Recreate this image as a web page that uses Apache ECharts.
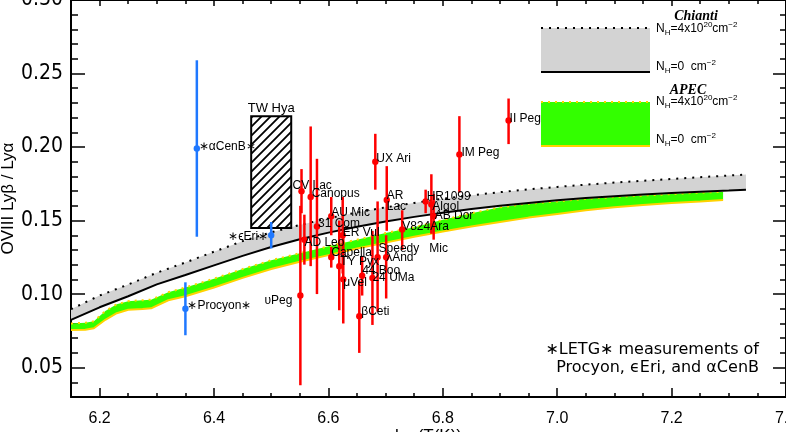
<!DOCTYPE html>
<html>
<head>
<meta charset="utf-8">
<script src="https://cdn.jsdelivr.net/npm/echarts@6/dist/echarts.min.js"></script>
<style>
  html, body { margin: 0; padding: 0; background: #fff; }
  #chart { width: 786px; height: 432px; }
</style>
</head>
<body>
<div id="chart"></div>
<script>
// model curves: Chianti (grey band) and APEC (green band), log T vs ratio
var chiantiT = [6.15, 6.20, 6.25, 6.30, 6.35, 6.40, 6.45, 6.50, 6.55, 6.60, 6.65, 6.70, 6.75,
  6.80, 6.85, 6.90, 6.95, 7.00, 7.05, 7.10, 7.15, 7.20, 7.25, 7.30, 7.33];
var chiantiNH0 = [0.0824, 0.0910, 0.0985, 0.1066, 0.1130, 0.1195, 0.1260, 0.1320, 0.1373, 0.1418,
  0.1458, 0.1493, 0.1525, 0.1553, 0.1578, 0.1600, 0.1620, 0.1638, 0.1653, 0.1666, 0.1677, 0.1687,
  0.1696, 0.1704, 0.1709];
var chiantiNH4 = [0.0897, 0.0990, 0.1065, 0.1145, 0.1215, 0.1288, 0.1360, 0.1420, 0.1470, 0.1515,
  0.1555, 0.1590, 0.1620, 0.1648, 0.1672, 0.1693, 0.1712, 0.1729, 0.1744, 0.1758, 0.1771, 0.1783,
  0.1795, 0.1806, 0.1813];

var apecT = [6.15, 6.175, 6.19, 6.21, 6.23, 6.25, 6.275, 6.29, 6.32, 6.35, 6.40, 6.45, 6.50, 6.55,
  6.60, 6.65, 6.70, 6.75, 6.80, 6.85, 6.90, 6.95, 7.00, 7.05, 7.10, 7.15, 7.20, 7.25, 7.29];
var apecNH0 = [0.0756, 0.0758, 0.0768, 0.0825, 0.0870, 0.0893, 0.0898, 0.0903, 0.0958, 0.0985,
  0.1045, 0.1110, 0.1170, 0.1220, 0.1265, 0.1310, 0.1350, 0.1390, 0.1425, 0.1460, 0.1490, 0.1520,
  0.1545, 0.1570, 0.1590, 0.1605, 0.1620, 0.1630, 0.1640];
var apecNH4 = [0.0800, 0.0805, 0.0815, 0.0885, 0.0930, 0.0952, 0.0958, 0.0962, 0.1012, 0.1045,
  0.1105, 0.1170, 0.1230, 0.1278, 0.1325, 0.1370, 0.1415, 0.1455, 0.1505, 0.1550, 0.1590, 0.1615,
  0.1630, 0.1648, 0.1660, 0.1670, 0.1680, 0.1690, 0.1695];

// HETG stars (red)
var starNames = ['CV Lac', '\u03c5Peg', 'AD Leo', 'Canopus', '31 Com', 'AU Mic', 'Capella', 'ER Vul',
  'TY Pyx', '\u03bcVel', '44 Boo', '\u03b2Ceti', '24 UMa', 'Speedy   Mic', '\u03bbAnd', 'AR\nLac', 'UX Ari',
  'V824Ara', 'HR1099', 'Algol', 'AB Dor', 'IM Peg', 'II Peg'];
var starT = [6.553, 6.551, 6.558, 6.569, 6.580, 6.605, 6.605, 6.625, 6.619, 6.626, 6.659, 6.654,
  6.677, 6.686, 6.701, 6.702, 6.682, 6.729, 6.770, 6.780, 6.784, 6.829, 6.915];
var starRatio = [0.170, 0.099, 0.137, 0.166, 0.146, 0.153, 0.125, 0.140, 0.119, 0.110, 0.1125, 0.085,
  0.111, 0.125, 0.125, 0.164, 0.190, 0.144, 0.163, 0.161, 0.153, 0.195, 0.218];
var starLow = [0.155, 0.038, 0.120, 0.119, 0.100, 0.140, 0.118, 0.114, 0.089, 0.080, 0.099, 0.060,
  0.079, 0.088, 0.097, 0.143, 0.171, 0.130, 0.155, 0.141, 0.137, 0.169, 0.202];
var starHigh = [0.185, 0.160, 0.154, 0.214, 0.192, 0.166, 0.132, 0.166, 0.150, 0.140, 0.126, 0.109,
  0.143, 0.163, 0.140, 0.187, 0.209, 0.157, 0.171, 0.1815, 0.168, 0.221, 0.233];
// label offsets (dx, dy, align) - layout only
var starLabelPos = [[-9, -5], [-8, 5, 'right'], [0, 3], [1, -3], [1, -3], [0, -3], [0, -5], [0, -3],
  [1, -4], [0, 3], [0, -5], [2, -4], [0, 0], [1, -9], [0, 0], [0, 1], [1, -3], [0, -3], [1, -5],
  [1, 2], [1, 0], [2, -2], [1, -2]];

// LETG stars (blue)
var letgNames = ['\u2217Procyon\u2217', '\u2217\u03f5Eri\u2217', '\u2217\u03b1CenB\u2217'];
var letgT = [6.35, 6.50, 6.37];
var letgRatio = [0.090, 0.140, 0.199];
var letgLow = [0.072, 0.131, 0.139];
var letgHigh = [0.108, 0.149, 0.259];
var letgLabelPos = [[2, -3], [-3, 1, 'right'], [2, -2]];

// TW Hya box [Tmin, Tmax, ratio min, ratio max]
var twHya = [6.465, 6.535, 0.145, 0.221];

// ticks
var xMajor = [6.2, 6.4, 6.6, 6.8, 7.0, 7.2, 7.4];
var yMajor = [0.05, 0.10, 0.15, 0.20, 0.25, 0.30];
var xMinor = [], yMinor = [];
for (var k = 0; k <= 25; k++) xMinor.push(+(6.15 + k * 0.05).toFixed(2));
for (var m = 0; m <= 27; m++) yMinor.push(+(0.03 + m * 0.01).toFixed(2));

var FONT = 'Liberation Sans';
var chart = echarts.init(document.getElementById('chart'));

// hatch pattern for TW Hya
var hatch = document.createElement('canvas');
hatch.width = 9; hatch.height = 9;
var hc = hatch.getContext('2d');
hc.fillStyle = '#fff'; hc.fillRect(0, 0, 9, 9);
hc.strokeStyle = '#000'; hc.lineWidth = 1.8;
hc.beginPath();
hc.moveTo(-1, 10); hc.lineTo(10, -1);
hc.moveTo(-1, 1); hc.lineTo(1, -1);
hc.moveTo(8, 10); hc.lineTo(10, 8);
hc.stroke();

function bandSeries(T, lo, hi, color, z) {
  return {
    type: 'custom', silent: true, z: z, data: [[T[0], lo[0]]],
    renderItem: function (params, api) {
      var pts = [];
      for (var i = 0; i < T.length; i++) pts.push(api.coord([T[i], hi[i]]));
      for (var j = T.length - 1; j >= 0; j--) pts.push(api.coord([T[j], lo[j]]));
      return { type: 'polygon', shape: { points: pts }, style: { fill: color } };
    }
  };
}

function curve(T, vals, color, width, type, z) {
  return {
    type: 'line', silent: true, z: z, symbol: 'none', smooth: false,
    data: T.map(function (t, i) { return [t, vals[i]]; }),
    lineStyle: { color: color, width: width, type: type }
  };
}

function errSeries(T, val, lo, hi, color) {
  return {
    type: 'custom', z: 5,
    data: T.map(function (t, i) { return [t, val[i], lo[i], hi[i]]; }),
    encode: { x: 0, y: [1, 2, 3] },
    renderItem: function (params, api) {
      var p = api.coord([api.value(0), api.value(1)]);
      var a = api.coord([api.value(0), api.value(2)]);
      var b = api.coord([api.value(0), api.value(3)]);
      return {
        type: 'group', children: [
          { type: 'line', shape: { x1: a[0], y1: a[1], x2: b[0], y2: b[1] }, style: { stroke: color, lineWidth: 2.5 } },
          { type: 'circle', shape: { cx: p[0], cy: p[1], r: 3.2 }, style: { fill: color } }
        ]
      };
    }
  };
}

function labelSeries(T, val, names, pos) {
  return {
    type: 'custom', z: 8, silent: true,
    data: T.map(function (t, i) { return [t, val[i]]; }),
    renderItem: function (params, api) {
      var p = api.coord([api.value(0), api.value(1)]);
      var o = pos[params.dataIndex];
      return {
        type: 'text', x: p[0] + o[0], y: p[1] + o[1],
        style: {
          text: names[params.dataIndex], fill: '#000', font: '12px "' + FONT + '"',
          align: o[2] || 'left', verticalAlign: 'middle', lineHeight: 11
        }
      };
    }
  };
}

function xAx(pos, vals, len, main) {
  return {
    type: 'value', min: 6.15, max: 7.4, position: pos,
    axisLine: { show: main, onZero: false, lineStyle: { color: '#000', width: 2 } },
    axisTick: { inside: true, length: len, customValues: vals, lineStyle: { color: '#000', width: 1.5 } },
    axisLabel: main && pos === 'bottom' ? {
      customValues: xMajor, color: '#000', fontSize: 16, fontFamily: FONT, margin: 14,
      formatter: function (v) { return v.toFixed(1); }
    } : { show: false },
    splitLine: { show: false },
    name: main && pos === 'bottom' ? 'log(T(K))' : '',
    nameLocation: 'middle', nameGap: 31, nameMoveOverlap: false,
    nameTextStyle: { color: '#000', fontSize: 17, fontFamily: FONT }
  };
}
function yAx(pos, vals, len, main) {
  return {
    type: 'value', min: 0.03, max: 0.30, position: pos,
    axisLine: { show: main, onZero: false, lineStyle: { color: '#000', width: 2 } },
    axisTick: { inside: true, length: len, customValues: vals, lineStyle: { color: '#000', width: 1.5 } },
    axisLabel: main && pos === 'left' ? {
      customValues: yMajor, color: '#000', fontSize: 21, margin: 8,
      fontFamily: 'Liberation Sans Narrow, DejaVu Sans Condensed, sans-serif',
      formatter: function (v) { return v.toFixed(2); }
    } : { show: false },
    splitLine: { show: false },
    name: main && pos === 'left' ? 'OVIII Ly\u03b2 / Ly\u03b1' : '',
    nameLocation: 'middle', nameGap: 54, nameMoveOverlap: false,
    nameTextStyle: { color: '#000', fontSize: 17, fontFamily: FONT }
  };
}

function nhText(x, y, four) {
  var t = four ? '{n|N}{s|H}{n|=4x10}{p|20}{n|cm}{p|\u22122}' : '{n|N}{s|H}{n|=0  cm}{p|\u22122}';
  return {
    type: 'text', x: x, y: y,
    style: {
      text: t, verticalAlign: 'middle', fill: '#000',
      rich: {
        n: { fontSize: 12, fontFamily: FONT, lineHeight: 16 },
        s: { fontSize: 8, fontFamily: FONT, lineHeight: 16, verticalAlign: 'bottom' },
        p: { fontSize: 8, fontFamily: FONT, lineHeight: 16, verticalAlign: 'top' }
      }
    }
  };
}

var option = {
  backgroundColor: '#fff',
  animation: false,
  grid: { left: 71, right: 0, top: 0, bottom: 35, containLabel: false, outerBoundsMode: 'none' },
  xAxis: [xAx('bottom', xMajor, 9, true), xAx('bottom', xMinor, 4, false),
    xAx('top', xMajor, 6, true), xAx('top', xMinor, 4, false)],
  yAxis: [yAx('left', yMajor, 14, true), yAx('left', yMinor, 7, false),
    yAx('right', yMajor, 13, true), yAx('right', yMinor, 6, false)],
  series: [
    bandSeries(apecT, apecNH0, apecNH4, '#33ff00', 1),
    curve(apecT, apecNH0, '#ffd200', 2, 'solid', 2),
    curve(apecT, apecNH4, '#ffd200', 2, [2, 5], 2),
    bandSeries(chiantiT, chiantiNH0, chiantiNH4, '#d3d3d3', 3),
    curve(chiantiT, chiantiNH0, '#000', 2, 'solid', 4),
    curve(chiantiT, chiantiNH4, '#000', 2, [2, 6], 4),
    {
      type: 'custom', z: 4, silent: true, data: [twHya],
      renderItem: function (params, api) {
        var a = api.coord([api.value(0), api.value(3)]);
        var b = api.coord([api.value(1), api.value(2)]);
        return {
          type: 'group', children: [
            { type: 'rect', shape: { x: a[0], y: a[1], width: b[0] - a[0], height: b[1] - a[1] },
              style: { fill: { image: hatch, repeat: 'repeat' }, stroke: '#000', lineWidth: 2 } },
            { type: 'text', x: (a[0] + b[0]) / 2, y: a[1] - 8,
              style: { text: 'TW Hya', font: '13px "' + FONT + '"', fill: '#000', align: 'center', verticalAlign: 'middle' } }
          ]
        };
      }
    },
    errSeries(starT, starRatio, starLow, starHigh, '#ff0000'),
    errSeries(letgT, letgRatio, letgLow, letgHigh, '#1f78ff'),
    labelSeries(starT, starRatio, starNames, starLabelPos),
    labelSeries(letgT, letgRatio, letgNames, letgLabelPos)
  ],
  graphic: [
    // legend: Chianti
    { type: 'rect', shape: { x: 541, y: 28, width: 109, height: 44 }, style: { fill: '#d3d3d3' } },
    { type: 'line', shape: { x1: 541, y1: 28, x2: 650, y2: 28 }, style: { stroke: '#000', lineWidth: 2, lineDash: [2, 6] } },
    { type: 'line', shape: { x1: 541, y1: 72, x2: 650, y2: 72 }, style: { stroke: '#000', lineWidth: 2 } },
    { type: 'text', x: 696, y: 16, style: { text: 'Chianti', font: 'italic bold 14px "Liberation Serif"', fill: '#000', align: 'center', verticalAlign: 'middle' } },
    nhText(656, 29, true),
    nhText(656, 67, false),
    // legend: APEC
    { type: 'rect', shape: { x: 541, y: 102, width: 109, height: 44 }, style: { fill: '#33ff00' } },
    { type: 'line', shape: { x1: 541, y1: 102, x2: 650, y2: 102 }, style: { stroke: '#ffd200', lineWidth: 2, lineDash: [2, 5] } },
    { type: 'line', shape: { x1: 541, y1: 146, x2: 650, y2: 146 }, style: { stroke: '#ffd200', lineWidth: 2 } },
    { type: 'text', x: 688, y: 90, style: { text: 'APEC', font: 'italic bold 14px "Liberation Serif"', fill: '#000', align: 'center', verticalAlign: 'middle' } },
    nhText(656, 102, true),
    nhText(656, 140, false),
    // note
    { type: 'text', x: 759, y: 350, style: { text: '\u2217LETG\u2217 measurements of', font: '16px "DejaVu Sans"', fill: '#000', align: 'right', verticalAlign: 'middle' } },
    { type: 'text', x: 759, y: 368, style: { text: 'Procyon, \u03f5Eri, and \u03b1CenB', font: '16px "DejaVu Sans"', fill: '#000', align: 'right', verticalAlign: 'middle' } }
  ]
};
chart.setOption(option);
</script>
</body>
</html>
